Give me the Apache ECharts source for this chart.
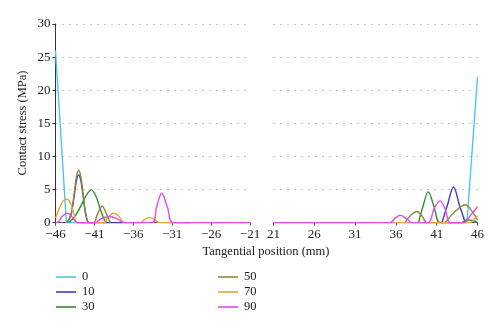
<!DOCTYPE html>
<html>
<head>
<meta charset="utf-8">
<script src="https://cdn.jsdelivr.net/npm/echarts@6/dist/echarts.min.js"></script>
<style>
  html, body { margin: 0; padding: 0; background: #fff; }
  #chart { width: 500px; height: 331px; }
</style>
</head>
<body>
<div id="chart"></div>
<script>
// Contact stress along the tangential position, for each loading angle.
// Left panel covers -46..-21 mm, right panel covers 21..46 mm.
const seriesNames = ['0', '10', '30', '50', '70', '90'];
const seriesColors = ['#4cc8e2', '#3d3dc6', '#2f8c2f', '#8e893a', '#e8a33a', '#e44ae4'];
const leftTicks = [-46, -41, -36, -31, -26, -21];
const rightTicks = [21, 26, 31, 36, 41, 46];
const stressTicks = [0, 5, 10, 15, 20, 25, 30];

// [position (mm), stress (MPa)] — left side
const angle0Left = [[-46, 26], [-44.6, 0], [-41, 0]];
const angle10Left = [[-44.5, 0], [-44.0, 1.2], [-43.6, 4.0], [-43.3, 6.4], [-43.02, 7.2], [-42.75, 6.4], [-42.45, 4.0], [-42.1, 1.2], [-41.65, 0], [-37.3, 0]];
const angle30Left = [[-44.3, 0], [-43.6, 0.8], [-42.8, 2.4], [-42.0, 4.2], [-41.4, 4.95], [-40.8, 4.0], [-40.2, 1.9], [-39.7, 0.4], [-39.4, 0]];
const angle50Left = [[-44.5, 0], [-44.0, 1.3], [-43.6, 4.4], [-43.3, 7.0], [-43.02, 7.95], [-42.75, 7.0], [-42.45, 4.4], [-42.1, 1.3], [-41.65, 0], [-41.1, 0], [-40.6, 1.3], [-40.0, 2.5], [-39.45, 1.3], [-38.95, 0]];
const angle70Left = [[-46, 0.7], [-45.5, 2.2], [-45.0, 3.3], [-44.5, 3.55], [-44.0, 2.7], [-43.6, 1.2], [-43.2, 0], [-39.8, 0], [-39.2, 0.9], [-38.5, 1.45], [-37.8, 0.9], [-37.2, 0], [-35.1, 0], [-34.5, 0.55], [-33.95, 0.8], [-33.3, 0.5], [-32.65, 0], [-28.7, 0]];
const angle90Left = [[-46, 0], [-45.8, 0], [-45.1, 1.0], [-44.5, 1.45], [-43.9, 0.9], [-43.2, 0], [-40.9, 0], [-40.1, 0.65], [-39.0, 0.9], [-38.0, 0.55], [-37.2, 0], [-33.6, 0], [-33.0, 2.4], [-32.35, 4.45], [-31.6, 2.3], [-30.85, 0], [-21, 0]];

// [position (mm), stress (MPa)] — right side
const angle0Right = [[42, 0], [44.7, 0], [46, 22]];
const angle10Right = [[41.64, 0], [42.3, 2.6], [43.06, 5.4], [43.8, 2.6], [44.5, 0]];
const angle30Right = [[38.77, 0], [39.3, 2.4], [39.97, 4.65], [40.7, 2.3], [41.43, 0], [44.0, 0], [44.7, 0.4], [45.4, 0.35], [46, 0]];
const angle50Right = [[37.1, 0], [37.8, 1.1], [38.57, 1.7], [39.2, 1.0], [39.8, 0], [41.8, 0], [43.0, 1.4], [44.5, 2.7], [45.4, 1.6], [46, 0.4]];
const angle70Right = [[35, 0], [45.0, 0], [45.5, 0.4], [46, 1.0]];
const angle90Right = [[21, 0], [35.3, 0], [35.9, 0.7], [36.55, 1.1], [37.3, 0.6], [37.95, 0], [39.95, 0], [40.7, 2.2], [41.43, 3.3], [42.05, 2.0], [42.65, 0], [44.3, 0], [45.2, 1.2], [46, 2.4]];

const leftData = [angle0Left, angle10Left, angle30Left, angle50Left, angle70Left, angle90Left];
const rightData = [angle0Right, angle10Right, angle30Right, angle50Right, angle70Right, angle90Right];

const serifFont = '"Liberation Serif", "DejaVu Serif", serif';
const textColor = '#222';

function buildSeries(dataSets, axisIndex) {
  return dataSets.map((data, i) => ({
    name: seriesNames[i],
    type: 'line',
    xAxisIndex: axisIndex,
    yAxisIndex: axisIndex,
    data: data,
    smooth: i === 0 ? false : 0.35,
    showSymbol: false,
    symbol: 'none',
    clip: true,
    color: seriesColors[i],
    lineStyle: { width: 1.4, color: seriesColors[i] },
    z: 2 + i,
    animation: false
  }));
}

function xAxisFor(gridIndex, min, max, ticks) {
  return {
    type: 'value',
    gridIndex: gridIndex,
    min: min,
    max: max,
    axisLine: { show: true, onZero: false, lineStyle: { color: '#555', width: 1 } },
    axisTick: { show: true, length: 3, customValues: ticks, lineStyle: { color: '#555' } },
    axisLabel: {
      customValues: ticks,
      color: textColor,
      fontFamily: serifFont,
      fontSize: 13,
      margin: 5,
      formatter: v => (v < 0 ? '\u2212' + Math.abs(v) : String(v))
    },
    splitLine: { show: false }
  };
}

function yAxisFor(gridIndex, showAxis) {
  return {
    type: 'value',
    gridIndex: gridIndex,
    min: 0,
    max: 30,
    interval: 5,
    axisLine: { show: showAxis, lineStyle: { color: '#333', width: 1 } },
    axisTick: { show: showAxis, length: 3, lineStyle: { color: '#333' } },
    axisLabel: {
      show: showAxis,
      customValues: stressTicks,
      color: textColor,
      fontFamily: serifFont,
      fontSize: 13,
      margin: 5
    },
    splitLine: {
      show: true,
      lineStyle: { color: '#8a8a8a', width: 1, type: [1, 6] }
    }
  };
}

const legendBase = {
  orient: 'vertical',
  top: 270.5,
  padding: 0,
  itemWidth: 20,
  itemHeight: 10,
  itemGap: 2,
  icon: 'path://M0,4.2 L20,4.2 L20,5.8 L0,5.8 Z',
  textStyle: { color: textColor, fontFamily: serifFont, fontSize: 12.5, padding: [0, 0, 0, 1] }
};

const chart = echarts.init(document.getElementById('chart'), null, { renderer: 'canvas' });

chart.setOption({
  backgroundColor: '#fff',
  animation: false,
  grid: [
    { left: 55.5, top: 24, width: 194.5, height: 198.7 },
    { left: 273.5, top: 24, width: 204, height: 198.7 }
  ],
  xAxis: [
    xAxisFor(0, -46, -21, leftTicks),
    xAxisFor(1, 21, 46, rightTicks)
  ],
  yAxis: [
    yAxisFor(0, true),
    yAxisFor(1, false)
  ],
  legend: [
    Object.assign({}, legendBase, { data: seriesNames.slice(0, 3), left: 56 }),
    Object.assign({}, legendBase, { data: seriesNames.slice(3), left: 218 })
  ],
  graphic: [
    {
      type: 'text',
      x: 266,
      y: 252,
      style: {
        text: 'Tangential position (mm)',
        fill: textColor,
        font: '12.5px ' + serifFont,
        align: 'center',
        verticalAlign: 'middle'
      }
    },
    {
      type: 'text',
      x: 23,
      y: 123,
      rotation: Math.PI / 2,
      style: {
        text: 'Contact stress (MPa)',
        fill: textColor,
        font: '12.5px ' + serifFont,
        align: 'center',
        verticalAlign: 'middle'
      }
    }
  ],
  series: buildSeries(leftData, 0).concat(buildSeries(rightData, 1))
});
</script>
</body>
</html>
